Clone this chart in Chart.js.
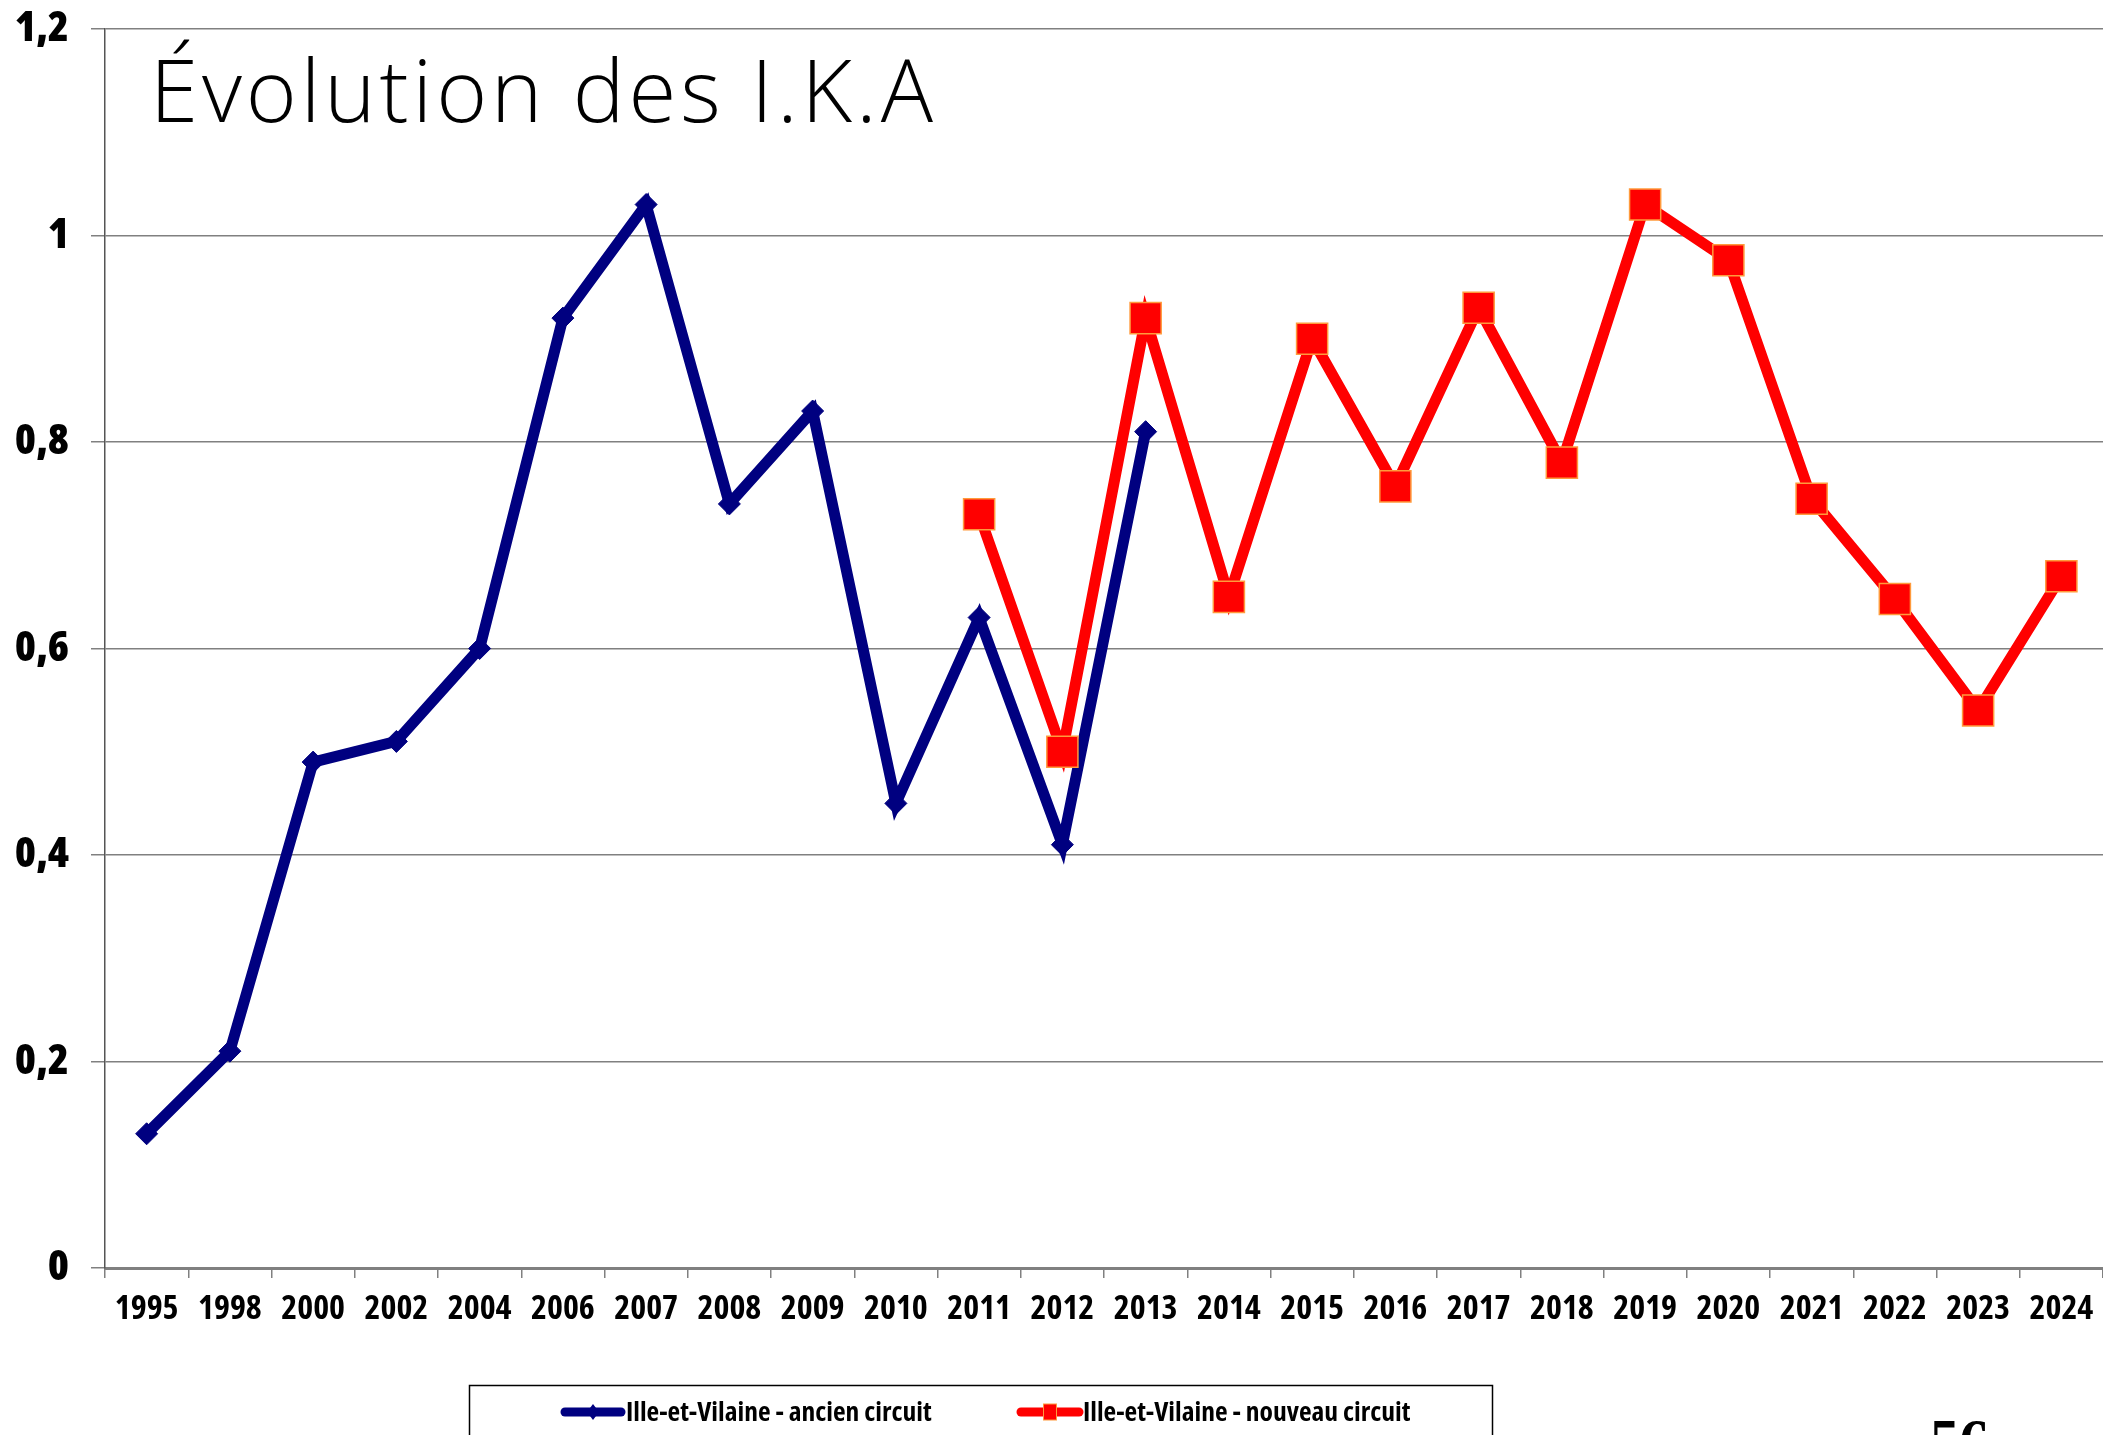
<!DOCTYPE html>
<html lang="fr">
<head>
<meta charset="utf-8">
<title>Évolution des I.K.A</title>
<script src="https://cdn.jsdelivr.net/npm/chart.js@4.4.1/dist/chart.umd.min.js"></script>
<style>
  html, body { margin: 0; padding: 0; background: #ffffff; overflow: hidden; }
  #wrap { position: relative; width: 2103px; height: 1435px; overflow: hidden; background: #fff; }
  #chart { position: absolute; left: 0; top: 0; }
  #title {
    position: absolute; left: 150px; top: 45px; margin: 0;
    font-family: "Open Sans", "Noto Sans", sans-serif; font-weight: 350;
    font-size: 87px; line-height: 87px; letter-spacing: 3.9px; color: #000;
    white-space: nowrap;
  }
  #page {
    position: absolute; left: 1930px; top: 1412px; margin: 0;
    font-family: "Liberation Serif", "DejaVu Serif", serif; font-weight: bold;
    font-size: 59px; line-height: 56px; color: #000;
  }
</style>
</head>
<body>
<div id="wrap">
  <canvas id="chart" width="2103" height="1435"></canvas>
  <div id="title">Évolution des I.K.A</div>
  <div id="page">56</div>
</div>
<script>
// ---- Data ----
const categories = ['1995','1998','2000','2002','2004','2006','2007','2008','2009','2010','2011','2012',
                    '2013','2014','2015','2016','2017','2018','2019','2020','2021','2022','2023','2024'];
const ancienCircuit = [0.13, 0.21, 0.49, 0.51, 0.60, 0.92, 1.03, 0.74, 0.83, 0.45, 0.63, 0.41, 0.81,
                       null, null, null, null, null, null, null, null, null, null, null];
const nouveauCircuit = [null, null, null, null, null, null, null, null, null, null,
                        0.73, 0.50, 0.92, 0.65, 0.90, 0.757, 0.93, 0.78, 1.03, 0.976, 0.745, 0.648, 0.54, 0.67];
const yTickLabels = ['0', '0,2', '0,4', '0,6', '0,8', '1', '1,2'];
const seriesNames = ['Ille-et-Vilaine - ancien circuit', 'Ille-et-Vilaine - nouveau circuit'];

const NAVY = '#000080';
const RED = '#FF0000';
const ORANGE = '#FF9A3C';
const condFamily = '"Open Sans", "Noto Sans", sans-serif';

// Custom legend drawn in a boxed frame (like the original)
const boxedLegend = {
  id: 'boxedLegend',
  afterDraw(chart) {
    const ctx = chart.ctx;
    ctx.save();
    ctx.strokeStyle = '#000';
    ctx.lineWidth = 1.5;
    ctx.strokeRect(469.5, 1385.5, 1023, 80);
    const cy = 1412;
    const items = [
      { ds: chart.data.datasets[0], x0: 565, x1: 621, tx: 626 },
      { ds: chart.data.datasets[1], x0: 1021, x1: 1079, tx: 1083 }
    ];
    items.forEach(it => {
      const ds = it.ds;
      ctx.beginPath();
      ctx.strokeStyle = ds.borderColor;
      ctx.lineWidth = 9;
      ctx.lineCap = 'round';
      ctx.moveTo(it.x0, cy);
      ctx.lineTo(it.x1, cy);
      ctx.stroke();
      const mx = (it.x0 + it.x1) / 2;
      if (ds.pointStyle === 'rectRot') {
        ctx.beginPath();
        ctx.fillStyle = ds.pointBackgroundColor;
        ctx.moveTo(mx, cy - 8); ctx.lineTo(mx + 6, cy); ctx.lineTo(mx, cy + 8); ctx.lineTo(mx - 6, cy);
        ctx.closePath(); ctx.fill();
      } else {
        ctx.fillStyle = ds.pointBackgroundColor;
        ctx.fillRect(mx - 6.5, cy - 8, 13, 16);
        ctx.strokeStyle = ds.pointBorderColor;
        ctx.lineWidth = 1;
        ctx.strokeRect(mx - 6.5, cy - 8, 13, 16);
      }
      ctx.fillStyle = '#000';
      ctx.font = 'condensed bold 27.5px ' + condFamily;
      ctx.textBaseline = 'middle';
      ctx.textAlign = 'left';
      ctx.fillText(ds.label, it.tx, cy + 1);
    });
    ctx.restore();
  }
};

new Chart(document.getElementById('chart'), {
  type: 'line',
  data: {
    labels: categories,
    datasets: [
      {
        label: seriesNames[0],
        data: ancienCircuit,
        borderColor: NAVY,
        backgroundColor: NAVY,
        borderWidth: 11,
        pointStyle: 'rectRot',
        pointRadius: 11,
        pointHoverRadius: 11,
        pointBackgroundColor: NAVY,
        pointBorderColor: NAVY,
        pointBorderWidth: 1,
        tension: 0,
        spanGaps: false,
        order: 2
      },
      {
        label: seriesNames[1],
        data: nouveauCircuit,
        borderColor: RED,
        backgroundColor: RED,
        borderWidth: 11,
        pointStyle: 'rect',
        pointRadius: 22,
        pointHoverRadius: 22,
        pointBackgroundColor: RED,
        pointBorderColor: ORANGE,
        pointBorderWidth: 1.5,
        tension: 0,
        spanGaps: false,
        order: 1
      }
    ]
  },
  options: {
    responsive: false,
    animation: false,
    devicePixelRatio: 1,
    layout: { autoPadding: false, padding: { top: 29, right: 0, left: 0, bottom: 0 } },
    plugins: {
      legend: { display: false },
      title: { display: false },
      tooltip: { enabled: false }
    },
    scales: {
      x: {
        type: 'category',
        offset: true,
        grid: {
          offset: true,
          drawOnChartArea: false,
          drawTicks: true,
          tickLength: 10,
          color: '#808080',
          lineWidth: 1.5
        },
        border: { display: true, color: '#808080', width: 3 },
        ticks: {
          color: '#000',
          font: { family: condFamily, weight: 'condensed bold', size: 34 },
          padding: 11,
          maxRotation: 0,
          autoSkip: false
        },
        afterFit(scale) {
          scale.height = 167;
          scale.paddingLeft = 0;
          scale.paddingRight = 0;
        }
      },
      y: {
        min: 0,
        max: 1.2,
        ticks: {
          stepSize: 0.2,
          color: '#000',
          font: { family: condFamily, weight: 'condensed 800', size: 43 },
          padding: 22,
          callback: (value, index) => yTickLabels[index]
        },
        grid: {
          color: '#808080',
          lineWidth: 1.5,
          drawTicks: true,
          tickLength: 14
        },
        border: { display: true, color: '#555555', width: 1.5 },
        afterFit(scale) {
          scale.width = 105;
          scale.paddingTop = 0;
          scale.paddingBottom = 0;
        }
      }
    }
  },
  plugins: [boxedLegend]
});
</script>
</body>
</html>
